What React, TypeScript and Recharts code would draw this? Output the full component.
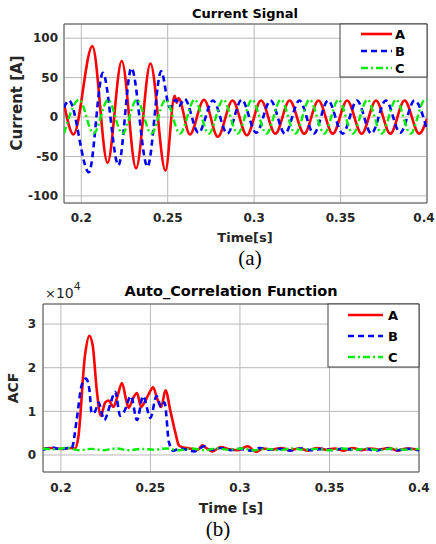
import React from 'react';
import { LineChart, Line, XAxis, YAxis, CartesianGrid, ReferenceArea } from 'recharts';

// Current signal, phase A/B/C: sample times [s] and values [A] read at peaks/troughs
const timeA = [0.19, 0.1955, 0.2064, 0.2152, 0.2234, 0.2317, 0.24, 0.2487, 0.254, 0.2552, 0.2562, 0.2628, 0.271, 0.279, 0.2875, 0.2958, 0.304, 0.3123, 0.3205, 0.329, 0.3372, 0.3455, 0.3538, 0.3622, 0.3705, 0.3788, 0.387, 0.3955, 0.4];
const currentA = [17, -22, 90, -58, 71, -65, 68, -68, 27, 18, 24, -22, 22, -25, 21, -23, 21, -21, 21, -21, 21, -21, 21, -21, 21, -21, 21, -21, -2];

const timeB = [0.19, 0.1929, 0.2044, 0.2125, 0.2215, 0.229, 0.2383, 0.2462, 0.2512, 0.2548, 0.2565, 0.2598, 0.2678, 0.2762, 0.2845, 0.2928, 0.3012, 0.3095, 0.3178, 0.3262, 0.3345, 0.3428, 0.3512, 0.3595, 0.3678, 0.3762, 0.3845, 0.3928, 0.4];
const currentB = [12, 21, -70, 56, -61, 62, -63, 58, 12, 22, 14, 23, -20, 21, -21, 22, -20, 21, -21, 21, -21, 21, -21, 21, -21, 21, -20, 21, -16];

const timeC = [0.19, 0.1988, 0.2071, 0.2155, 0.2238, 0.2321, 0.2405, 0.2488, 0.2571, 0.2655, 0.2738, 0.2821, 0.2905, 0.2988, 0.3071, 0.3155, 0.3238, 0.3321, 0.3405, 0.3488, 0.3571, 0.3655, 0.3738, 0.3821, 0.3905, 0.3988, 0.4];
const currentC = [-21, 22, -21, 22, -21, 22, -21, 22, -21, 22, -21, 22, -21, 22, -21, 22, -21, 22, -21, 22, -21, 22, -21, 22, -21, 22, 22];

// Auto-correlation function
const acfTimeA = [0.19, 0.195, 0.2, 0.205, 0.2079, 0.2097, 0.2135, 0.2159, 0.2178, 0.22, 0.2223, 0.2247, 0.2266, 0.2294, 0.2316, 0.2341, 0.2365, 0.2378, 0.2403, 0.2425, 0.2448, 0.2466, 0.2491, 0.2515, 0.2537, 0.256, 0.2584, 0.2612, 0.264, 0.2659, 0.2678, 0.272, 0.2765, 0.279, 0.2815, 0.2846, 0.2893, 0.294, 0.299, 0.3043, 0.309, 0.313, 0.318, 0.323, 0.328, 0.333, 0.338, 0.343, 0.348, 0.353, 0.358, 0.363, 0.368, 0.373, 0.378, 0.383, 0.388, 0.393, 0.4];
const acfA = [1500, 1600, 1400, 1600, 1500, 4000, 23000, 27300, 25000, 15000, 9000, 12000, 12500, 11000, 13500, 16500, 12500, 10800, 13000, 14200, 11000, 12000, 14000, 15500, 13000, 11000, 14800, 10000, 5000, 2200, 1800, 1500, 1200, 2200, 1500, 800, 1800, 1300, 1100, 2000, 700, 1500, 1200, 1600, 1100, 1500, 1000, 1600, 1200, 1500, 1000, 1600, 1100, 1500, 1200, 1600, 1000, 1500, 1200];

const acfTimeB = [0.19, 0.195, 0.2, 0.204, 0.206, 0.2088, 0.2116, 0.214, 0.2159, 0.2172, 0.2191, 0.221, 0.2242, 0.2275, 0.2303, 0.2331, 0.2354, 0.2391, 0.2425, 0.2459, 0.25, 0.2534, 0.256, 0.2579, 0.2603, 0.2627, 0.2669, 0.2743, 0.28, 0.284, 0.289, 0.295, 0.3, 0.306, 0.311, 0.316, 0.322, 0.328, 0.334, 0.34, 0.346, 0.352, 0.358, 0.364, 0.37, 0.376, 0.382, 0.388, 0.394, 0.4];
const acfB = [1200, 1700, 1300, 1600, 1500, 8000, 16000, 17500, 15000, 9500, 10000, 12000, 8000, 11500, 14500, 9000, 10000, 13500, 8000, 13500, 8500, 13500, 11000, 12000, 3000, 1000, 1500, 800, 2000, 1200, 1600, 1100, 1400, 1000, 1600, 1200, 1400, 1000, 1500, 1100, 1400, 1100, 1500, 1100, 1400, 1000, 1500, 1100, 1400, 1100];

const acfTimeC = [0.19, 0.197, 0.203, 0.21, 0.217, 0.224, 0.231, 0.238, 0.245, 0.252, 0.259, 0.266, 0.273, 0.28, 0.287, 0.294, 0.301, 0.308, 0.315, 0.322, 0.329, 0.336, 0.343, 0.35, 0.357, 0.364, 0.371, 0.378, 0.385, 0.392, 0.4];
const acfC = [1500, 1300, 1600, 1100, 1400, 1100, 1500, 1100, 1400, 1200, 1500, 1100, 1500, 1100, 1500, 1200, 1500, 1100, 1400, 1100, 1500, 1200, 1400, 1100, 1500, 1200, 1400, 1100, 1500, 1200, 1400];

const timeTicks = [0.2, 0.25, 0.3, 0.35, 0.4];
const currentTicks = [-100, -50, 0, 50, 100];
const acfTicks = [0, 10000, 20000, 30000];
const phases = ['A', 'B', 'C'];

const FONT = '"DejaVu Sans", Verdana, sans-serif';
const SERIF = '"Liberation Serif", "Times New Roman", serif';
const TXT = '#262626';
const GRID = '#b8b8b8';
const BOX = '#5a5a5a';
const styles: Record<string, { stroke: string; dash?: string; width: number }> = {
  A: { stroke: '#ff0000', width: 2.6 },
  B: { stroke: '#0000ff', dash: '6 4', width: 2.6 },
  C: { stroke: '#00ee00', dash: '7 3 2 3', width: 2.4 },
};

const rows = (ts: number[], vs: number[]) => ts.map((t, i) => ({ t, v: vs[i] }));

const tickStyle = { fontFamily: FONT, fontSize: 12, fontWeight: 700, fill: TXT };

// x tick that keeps the last label inside the page
const TimeTick = (props: any) => {
  const { x, y, payload } = props;
  return (
    <text x={Math.min(x, 424)} y={y} dy="0.71em" textAnchor="middle" {...tickStyle}>{payload.value}</text>
  );
};

function LegendBox({ x, y, w, h, rowY, lx1, lx2, tx }: { x: number; y: number; w: number; h: number; rowY: number[]; lx1: number; lx2: number; tx: number }) {
  return (
    <g>
      <rect x={x} y={y} width={w} height={h} fill="#fff" stroke="#404040" strokeWidth={1} />
      {phases.map((p, i) => (
        <g key={p}>
          <line x1={lx1} x2={lx2} y1={rowY[i]} y2={rowY[i]} stroke={styles[p].stroke} strokeWidth={styles[p].width} strokeDasharray={styles[p].dash} />
          <text x={tx} y={rowY[i]} dominantBaseline="central" fontFamily={FONT} fontSize={13} fontWeight={700} fill="#000">{p}</text>
        </g>
      ))}
    </g>
  );
}

export default function App() {
  const currentData = [rows(timeA, currentA), rows(timeB, currentB), rows(timeC, currentC)];
  const acfData = [rows(acfTimeA, acfA), rows(acfTimeB, acfB), rows(acfTimeC, acfC)];

  return (
    <div style={{ position: 'fixed', left: 0, top: 0, width: 436, height: 544, background: '#fff' }}>
      <div style={{ position: 'absolute', left: 0, top: 0 }}>
        <LineChart width={436} height={272} margin={{ top: 24, right: 9, bottom: 49, left: 24 }}>
          <CartesianGrid stroke={GRID} strokeWidth={1} />
          <XAxis dataKey="t" type="number" domain={[0.19, 0.4]} ticks={timeTicks} allowDataOverflow height={20}
            axisLine={false} tickLine={false} tickSize={0} tickMargin={10} tick={<TimeTick />} />
          <YAxis type="number" domain={[-109, 118]} ticks={currentTicks} allowDataOverflow width={40}
            axisLine={false} tickLine={false} tickSize={0} tickMargin={6} tick={tickStyle} />
          {phases.map((p, i) => (
            <Line key={p} data={currentData[i]} dataKey="v" name={p} type="monotone" dot={false}
              stroke={styles[p].stroke} strokeWidth={styles[p].width} strokeDasharray={styles[p].dash} isAnimationActive={false} />
          ))}
          <ReferenceArea x1={0.19} x2={0.4} y1={-109} y2={118} fill="none" stroke={BOX} strokeWidth={1} />
        </LineChart>
      </div>
      <div style={{ position: 'absolute', left: 0, top: 272 }}>
        <LineChart width={436} height={272} margin={{ top: 32, right: 17, bottom: 52, left: 13 }}>
          <CartesianGrid stroke={GRID} strokeWidth={1} />
          <XAxis dataKey="t" type="number" domain={[0.19, 0.4]} ticks={timeTicks} allowDataOverflow height={20}
            axisLine={false} tickLine={false} tickSize={0} tickMargin={11} tick={tickStyle} />
          <YAxis type="number" domain={[-3900, 34600]} ticks={acfTicks} allowDataOverflow width={30}
            axisLine={false} tickLine={false} tickSize={0} tickMargin={7} tick={tickStyle}
            tickFormatter={(v: number) => String(v / 10000)} />
          {phases.map((p, i) => (
            <Line key={p} data={acfData[i]} dataKey="v" name={p} type="monotone" dot={false}
              stroke={styles[p].stroke} strokeWidth={styles[p].width} strokeDasharray={styles[p].dash} isAnimationActive={false} />
          ))}
          <ReferenceArea x1={0.19} x2={0.4} y1={-3900} y2={34600} fill="none" stroke={BOX} strokeWidth={1} />
        </LineChart>
      </div>
      <svg width={436} height={544} style={{ position: 'absolute', left: 0, top: 0, pointerEvents: 'none' }}>
        <text x={245} y={13} textAnchor="middle" dominantBaseline="central" fontFamily={FONT} fontSize={13} fontWeight={700} fill="#000">Current Signal</text>
        <text x={17} y={103} textAnchor="middle" dominantBaseline="central" transform="rotate(-90 17 103)" fontFamily={FONT} fontSize={15} fontWeight={700} fill={TXT}>Current [A]</text>
        <text x={245} y={237} textAnchor="middle" dominantBaseline="central" fontFamily={FONT} fontSize={13} fontWeight={700} fill={TXT}>Time[s]</text>
        <text x={250} y={258} textAnchor="middle" dominantBaseline="central" fontFamily={SERIF} fontSize={21} fill="#000">(a)</text>
        <LegendBox x={340} y={24} w={87} h={53} rowY={[34, 51, 68]} lx1={361} lx2={392} tx={395} />

        <text x={231} y={291} textAnchor="middle" dominantBaseline="central" fontFamily={FONT} fontSize={14.5} fontWeight={700} fill="#000">Auto_Correlation Function</text>
        <text x={45} y={298} fontFamily={FONT} fill={TXT}>
          <tspan fontSize={13}>×</tspan><tspan fontSize={14}>10</tspan><tspan dy={-8} fontSize={11}>4</tspan>
        </text>
        <text x={13} y={388} textAnchor="middle" dominantBaseline="central" transform="rotate(-90 13 388)" fontFamily={FONT} fontSize={14} fontWeight={700} fill={TXT}>ACF</text>
        <text x={231} y={508} textAnchor="middle" dominantBaseline="central" fontFamily={FONT} fontSize={14} fontWeight={700} fill={TXT}>Time [s]</text>
        <text x={218} y={529} textAnchor="middle" dominantBaseline="central" fontFamily={SERIF} fontSize={21} fill="#000">(b)</text>
        <LegendBox x={328} y={304} w={91} h={63} rowY={[315, 336, 357]} lx1={348} lx2={383} tx={388} />
      </svg>
    </div>
  );
}
